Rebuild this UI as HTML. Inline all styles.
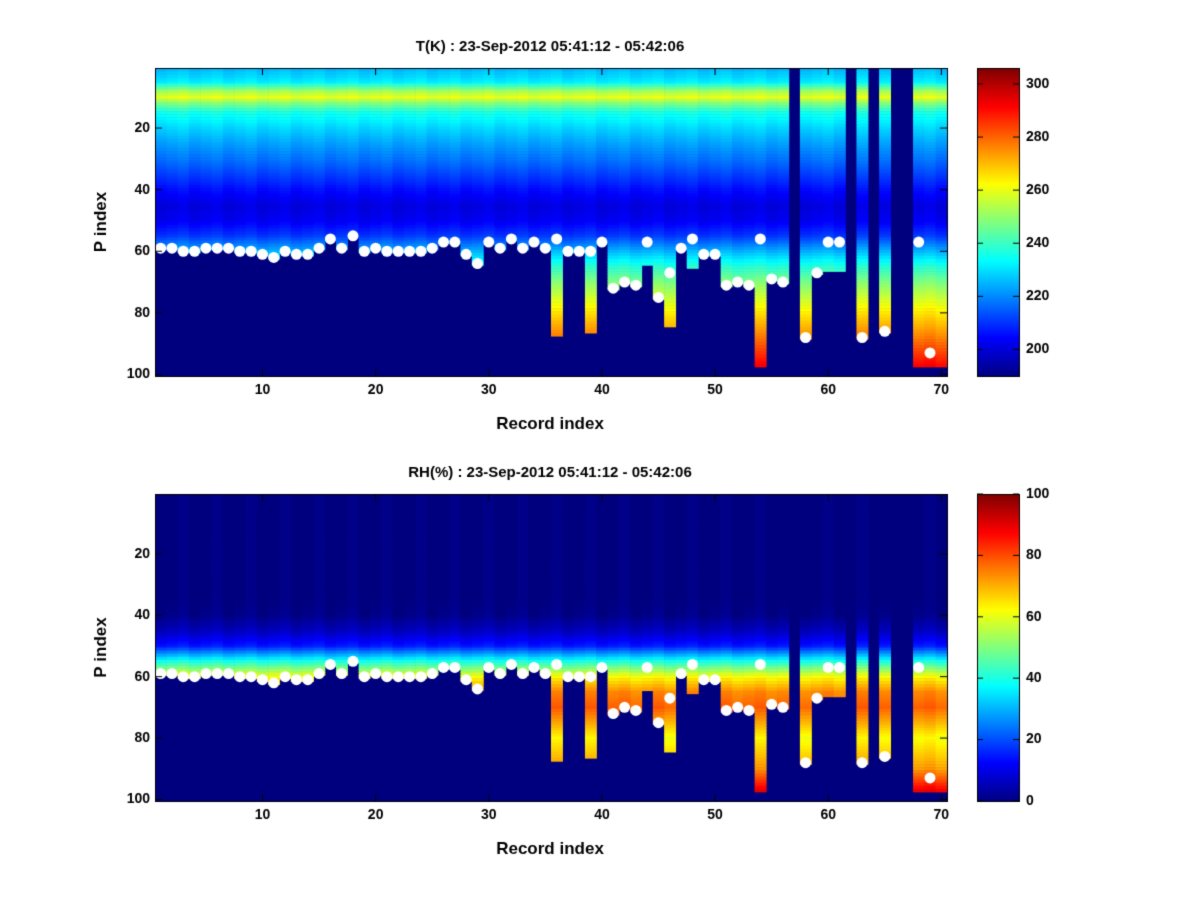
<!DOCTYPE html>
<html><head><meta charset="utf-8">
<style>
body{margin:0;background:#fff;width:1200px;height:900px;overflow:hidden;font-family:"Liberation Sans",sans-serif}
#wrap{position:relative;width:1200px;height:900px}
canvas{position:absolute;left:0;top:0}
</style></head>
<body><div id="wrap">
<canvas id="c" width="1200" height="900"></canvas>
</div>
<script>
// Surface P index (white dots), 0 = none
const surface=[59,59,60,60,59,59,59,60,60,61,62,60,61,61,59,56,59,55,60,59,60,60,60,60,59,57,57,61,64,57,59,56,59,57,59,56,60,60,60,57,72,70,71,57,75,67,59,56,61,61,71,70,71,56,69,70,0,88,67,57,57,0,88,0,86,0,0,57,93,0];
// Bottom of valid data per record (0 = no data column)
const bottoms=[59,59,60,60,59,59,59,60,60,61,62,60,61,61,59,56,59,55,60,59,60,60,60,60,59,57,57,61,64,57,59,56,59,57,59,87,60,60,86,57,72,70,71,64,75,84,59,65,61,61,71,70,71,97,69,70,0,88,67,66,66,0,88,0,86,0,0,97,97,97];
// Temperature / RH profiles vs P index
const profP=[1,5,8,10,12,15,20,25,30,35,40,45,50,55,60,65,70,80,90,100];
const profT=[226,232,252,260,248,236,229,223,218,212,206,201,203,211,225,238,248,265,280,296];
const profRH=[0,0,0,0,0,0,0,0,0,0,1,6,15,40,62,74,78,62,72,96];
const tTicks=[200,220,240,260,280,300];
const rhTicks=[0,20,40,60,80,100];
const xTicks=[10,20,30,40,50,60,70];
const yTicks=[20,40,60,80,100];

function interp(p,vals){for(let i=0;i<profP.length-1;i++){if(p<=profP[i+1]){const f=(p-profP[i])/(profP[i+1]-profP[i]);return vals[i]+f*(vals[i+1]-vals[i]);}}return vals[vals.length-1];}
function jet(v){v=Math.max(0,Math.min(1,v));const r=Math.max(0,Math.min(1,1.5-Math.abs(4*v-3))),g=Math.max(0,Math.min(1,1.5-Math.abs(4*v-2))),b=Math.max(0,Math.min(1,1.5-Math.abs(4*v-1)));return`rgb(${r*255|0},${g*255|0},${b*255|0})`;}
const c=document.getElementById('c'),ctx=c.getContext('2d');
const X0=155,X1=947,W=(X1-X0)/70;
function xl(r){return X0+(r-1)*W;}
function drawPlot(top,bot,vals,vmin,vmax,ticks,title,off){
  const H=(bot-top)/100;
  const yl=p=>top+(p-1)*H;
  ctx.fillStyle=jet(0);ctx.fillRect(X0,top,X1-X0,bot-top);
  for(let i=0;i<70;i++){const b=bottoms[i];for(let p=1;p<=b;p++){const v=interp(p,vals)+(i%3-1)*off;ctx.fillStyle=jet((v-vmin)/(vmax-vmin));ctx.fillRect(xl(i+1),yl(p),W+0.6,H+0.6);}}
  ctx.fillStyle='#fff';
  for(let i=0;i<70;i++){if(surface[i]){ctx.beginPath();ctx.arc(xl(i+1)+W/2,yl(surface[i])+H/2,5.5,0,7);ctx.fill();}}
  ctx.strokeStyle='#000';ctx.lineWidth=1;ctx.strokeRect(X0+.5,top+.5,X1-X0,bot-top);
  ctx.fillStyle='#000';ctx.font='bold 14px "Liberation Sans",sans-serif';ctx.textAlign='center';ctx.textBaseline='top';
  xTicks.forEach(t=>{const x=xl(t)+W/2;ctx.beginPath();ctx.moveTo(x,bot);ctx.lineTo(x,bot-7);ctx.moveTo(x,top);ctx.lineTo(x,top+7);ctx.stroke();ctx.fillText(t,x,bot+7);});
  ctx.textAlign='right';ctx.textBaseline='middle';
  yTicks.forEach(t=>{const y=yl(t)+H/2;ctx.beginPath();ctx.moveTo(X0,y);ctx.lineTo(X0+7,y);ctx.moveTo(X1,y);ctx.lineTo(X1-7,y);ctx.stroke();ctx.fillText(t,X0-5,y);});
  ctx.font='bold 17px "Liberation Sans",sans-serif';ctx.textAlign='center';ctx.textBaseline='alphabetic';
  ctx.fillText('Record index',550,bot+53);
  ctx.save();ctx.translate(106,(top+bot)/2);ctx.rotate(-Math.PI/2);ctx.fillText('P index',0,0);ctx.restore();
  ctx.font='bold 15px "Liberation Sans",sans-serif';ctx.fillText(title,550,top-17);
  // colorbar
  const cx0=977,cx1=1019;
  for(let y=top;y<bot;y++){ctx.fillStyle=jet(1-(y-top)/(bot-top));ctx.fillRect(cx0,y,cx1-cx0,1.5);}
  ctx.strokeRect(cx0+.5,top+.5,cx1-cx0,bot-top);
  ctx.fillStyle='#000';
  ctx.font='bold 14px "Liberation Sans",sans-serif';ctx.textAlign='left';ctx.textBaseline='middle';
  ticks.forEach(t=>{const y=bot-(t-vmin)/(vmax-vmin)*(bot-top);ctx.beginPath();ctx.moveTo(cx0,y);ctx.lineTo(cx0+6,y);ctx.moveTo(cx1,y);ctx.lineTo(cx1-6,y);ctx.stroke();ctx.fillText(t,cx1+7,y);});
}
drawPlot(68,376,profT,190,306,tTicks,'T(K) : 23-Sep-2012 05:41:12 - 05:42:06',1);
drawPlot(494,801,profRH,0,100,rhTicks,'RH(%) : 23-Sep-2012 05:41:12 - 05:42:06',1);
</script>
</body></html>
